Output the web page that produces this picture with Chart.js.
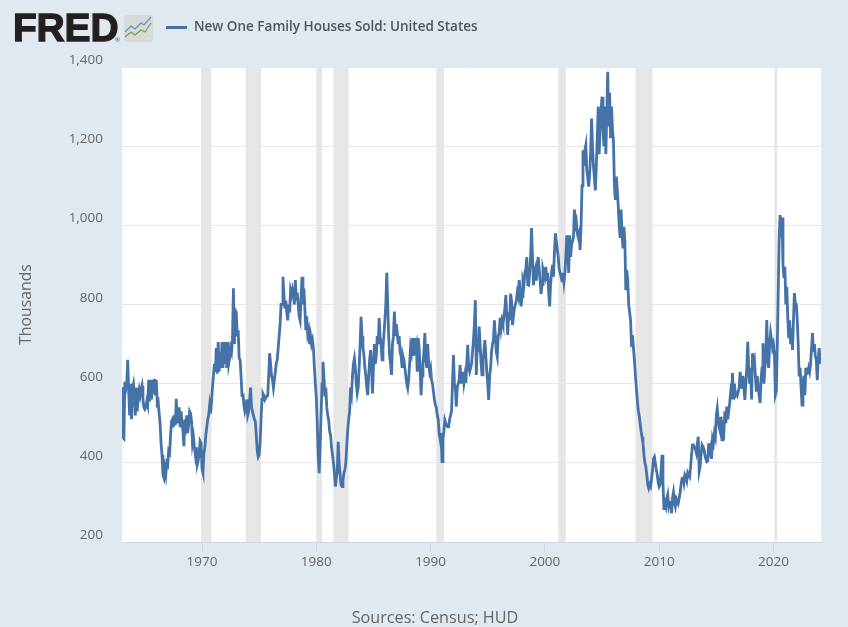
<!DOCTYPE html>
<html>
<head>
<meta charset="utf-8">
<title>New One Family Houses Sold: United States</title>
<script src="https://cdn.jsdelivr.net/npm/chart.js@4"></script>
<style>
  html, body { margin: 0; padding: 0; background: #e1e9f0; }
  #wrap { position: relative; width: 848px; height: 627px; overflow: hidden; font-family: "Open Sans", sans-serif; }
  #trendChart { position: absolute; left: 0; top: 0; }
  #logo { position: absolute; left: 13px; top: 6px; font: bold 39px/44px "Liberation Sans", sans-serif; color: #231f20; -webkit-text-stroke: 1.3px #231f20; letter-spacing: -0.2px; }
  #reg { position: absolute; left: 115px; top: 36px; font-size: 6px; color: #555; }
  #icon { position: absolute; left: 124px; top: 15px; }
  #legend-line { position: absolute; left: 166px; top: 26px; width: 21px; height: 2.5px; background: #4572a7; }
  #legend-text { position: absolute; left: 194px; top: 17px; font-size: 13.5px; line-height: 18px; font-weight: 600; color: #4a5560; white-space: nowrap; }
  #source { position: absolute; left: 0; width: 870px; top: 607px; text-align: center; font-size: 16.2px; line-height: 20px; color: #666; }
</style>
</head>
<body>
<div id="wrap">
  <canvas id="trendChart" width="848" height="627"></canvas>
  <div id="logo">FRED</div>
  <div id="reg">®</div>
  <svg id="icon" width="29" height="27" viewBox="0 0 29 27">
    <rect width="29" height="27" rx="3" fill="#d6dad9"/>
    <polyline points="1,17 7,11 11,14 17,8 20,10 27,2" fill="none" stroke="#6d8db5" stroke-width="1.2"/>
    <polyline points="1,22 7,17 11,20 17,15 21,17 27,8" fill="none" stroke="#7ea04d" stroke-width="1.2"/>
  </svg>
  <div id="legend-line"></div>
  <div id="legend-text"></div>
  <div id="source"></div>
</div>
<script>
const seriesLabel = "New One Family Houses Sold: United States";
const sourceNote = "Sources: Census; HUD";
const yTitle = "Thousands";

const firstYear = 1963;

// monthly values, thousands
const values1960s = [
  591,464,461,605,586,599,660,583,520,600,510,590,
  600,565,520,590,530,570,585,570,585,595,560,540,
  535,540,555,545,610,555,610,560,610,575,612,570,
  610,550,555,525,500,450,420,370,362,385,370,400,
  395,430,425,470,505,510,490,520,495,562,500,520,
  540,490,530,500,480,442,510,495,520,475,500,530,
  525,505,450,465,440,420,440,395,405,425,455,450
];
const values1970s = [
  385,375,425,440,470,490,510,520,545,525,555,590,
  620,650,630,690,625,705,630,680,640,705,640,700,
  650,705,640,705,650,665,690,680,710,841,700,785,
  780,720,735,665,660,620,570,575,545,530,540,560,
  520,530,560,590,540,530,520,510,505,470,430,415,
  420,450,510,560,575,570,560,565,568,570,620,677,
  650,620,610,590,610,630,652,660,690,720,750,800,
  800,870,825,790,810,780,760,800,780,836,825,838,
  825,800,862,810,830,800,770,760,820,870,800,840,
  790,735,770,725,735,700,720,700,710,690,640,600
];
const values1980s = [
  567,500,420,374,440,520,600,655,620,567,590,540,
  520,508,480,470,440,420,400,375,340,360,380,453,
  400,370,345,340,355,375,382,400,445,483,510,530,
  590,575,620,650,664,640,600,576,590,640,700,769,
  720,690,672,640,620,590,571,620,660,685,640,575,
  640,700,650,670,720,700,766,720,700,660,690,723,
  760,800,880,800,720,670,650,622,700,720,782,720,
  750,730,700,720,680,670,643,670,660,640,620,600,
  589,610,650,693,680,715,670,715,690,700,630,715,
  690,640,571,620,650,680,728,660,640,700,650,630
];
const values1990s = [
  640,610,600,580,560,546,540,520,510,475,460,475,
  403,460,480,508,500,495,491,491,510,520,530,600,
  672,600,590,542,590,600,610,647,600,620,630,602,
  620,602,650,698,640,630,640,650,680,710,750,811,
  622,700,680,744,700,650,622,660,680,710,670,630,
  600,559,620,640,680,700,710,760,720,680,668,720,
  730,766,740,760,750,770,790,824,770,723,780,760,
  827,810,748,770,790,800,810,830,820,862,840,795,
  820,860,850,880,890,920,850,849,880,920,993,920,
  849,880,890,860,900,920,890,860,827,850,890,880
];
const values2000s = [
  870,895,860,880,830,795,850,880,900,870,930,980,
  960,940,920,890,880,870,860,880,857,880,920,975,
  940,880,975,920,950,960,970,1040,1000,1010,980,970,
  980,938,1000,1100,1190,1150,1190,1203,1140,1120,1098,1130,
  1180,1270,1200,1150,1120,1088,1150,1220,1300,1180,1250,1290,
  1325,1240,1200,1300,1180,1280,1388,1250,1335,1220,1300,1240,
  1215,1100,1064,1123,1090,1050,1000,968,1040,980,942,996,
  960,836,887,860,800,780,760,693,723,690,660,622,
  590,560,533,520,500,480,466,450,420,400,390,370,
  345,336,345,340,360,380,410,415,400,382,370,350
];
const values2010s = [
  340,345,380,420,350,281,300,290,310,320,290,300,
  300,273,310,325,300,290,310,305,298,310,325,345,
  360,365,350,370,365,355,375,370,365,390,420,445,
  445,440,435,425,445,466,378,390,420,445,440,435,
  420,410,403,405,449,430,440,410,460,450,475,465,
  520,538,510,490,480,516,458,490,480,530,500,542,
  510,530,550,576,560,627,560,600,570,575,570,580,
  590,630,600,590,620,590,559,600,640,706,640,600,
  640,560,677,650,660,620,580,620,590,570,551,610,
  640,702,600,640,680,761,660,640,700,728,710,690
];
const values2020s = [
  700,680,571,580,690,830,970,1026,1000,1020,900,867,
  895,800,845,770,715,760,700,740,685,760,829,800,
  800,760,700,618,640,590,546,600,620,571,640,625,
  627,640,630,650,690,728,680,700,670,660,609,660,
  690,650
];

const xTicks = [1970, 1980, 1990, 2000, 2010, 2020];
const yTicks = [200, 400, 600, 800, 1000, 1200, 1400];

// recession bands, decimal years
const recessionStart = [1969.92, 1973.83, 1980.0, 1981.5, 1990.5, 2001.17, 2007.92, 2020.08];
const recessionEnd = [1970.83, 1975.17, 1980.5, 1982.83, 1991.17, 2001.83, 2009.42, 2020.33];

const monthly = [].concat(values1960s, values1970s, values1980s, values1990s, values2000s, values2010s, values2020s);

document.getElementById("legend-text").textContent = seriesLabel;
document.getElementById("source").textContent = sourceNote;

const plotBack = {
  id: "plotBack",
  beforeDatasetsDraw(chart) {
    const { ctx, chartArea, scales } = chart;
    ctx.save();
    ctx.fillStyle = "#e6e6e6";
    recessionStart.forEach((s, i) => {
      const x0 = scales.x.getPixelForValue(s);
      const x1 = scales.x.getPixelForValue(recessionEnd[i]);
      ctx.fillRect(x0, chartArea.top, x1 - x0, chartArea.bottom - chartArea.top);
    });
    ctx.restore();
  }
};

const whiteArea = {
  id: "whiteArea",
  beforeDraw(chart) {
    const { ctx, chartArea } = chart;
    ctx.save();
    ctx.fillStyle = "#ffffff";
    ctx.fillRect(chartArea.left, chartArea.top, chartArea.right - chartArea.left, chartArea.bottom - chartArea.top);
    ctx.restore();
  }
};

new Chart(document.getElementById("trendChart").getContext("2d"), {
  type: "line",
  data: {
    datasets: [{
      label: seriesLabel,
      data: monthly.map((v, i) => ({ x: firstYear + i / 12, y: v })),
      borderColor: "#4572a7",
      borderWidth: 2.8,
      pointRadius: 0,
      tension: 0
    }]
  },
  options: {
    responsive: false,
    animation: false,
    devicePixelRatio: 1,
    layout: { padding: { left: 0, right: 27, top: 67, bottom: 0 } },
    plugins: { legend: { display: false }, tooltip: { enabled: false } },
    scales: {
      x: {
        type: "linear",
        min: 1963,
        max: 2024.16,
        afterFit(scale) { scale.height = 85; },
        afterBuildTicks(scale) { scale.ticks = xTicks.map(v => ({ value: v })); },
        grid: { drawOnChartArea: false, drawTicks: true, tickLength: 10, tickColor: "#ccd6eb", tickWidth: 1 },
        border: { display: true, color: "#ccd6eb", width: 1 },
        ticks: {
          autoSkip: false,
          maxRotation: 0,
          padding: 2,
          color: "#666666",
          font: { family: "'Open Sans'", size: 13.5 },
          callback: v => String(v)
        }
      },
      y: {
        min: 200,
        max: 1400,
        afterFit(scale) { scale.width = 122; },
        afterBuildTicks(scale) { scale.ticks = yTicks.map(v => ({ value: v })); },
        grid: { color: "#e6e6e6", lineWidth: 1, drawTicks: false },
        border: { display: false },
        title: {
          display: true,
          text: yTitle,
          color: "#666666",
          font: { family: "'Open Sans'", size: 15.8 },
          padding: { top: 17, bottom: 0 }
        },
        ticks: {
          align: "end",
          padding: 19,
          color: "#666666",
          font: { family: "'Open Sans'", size: 13.5 },
          callback: v => v.toLocaleString("en-US")
        }
      }
    }
  },
  plugins: [whiteArea, plotBack]
});
</script>
</body>
</html>
